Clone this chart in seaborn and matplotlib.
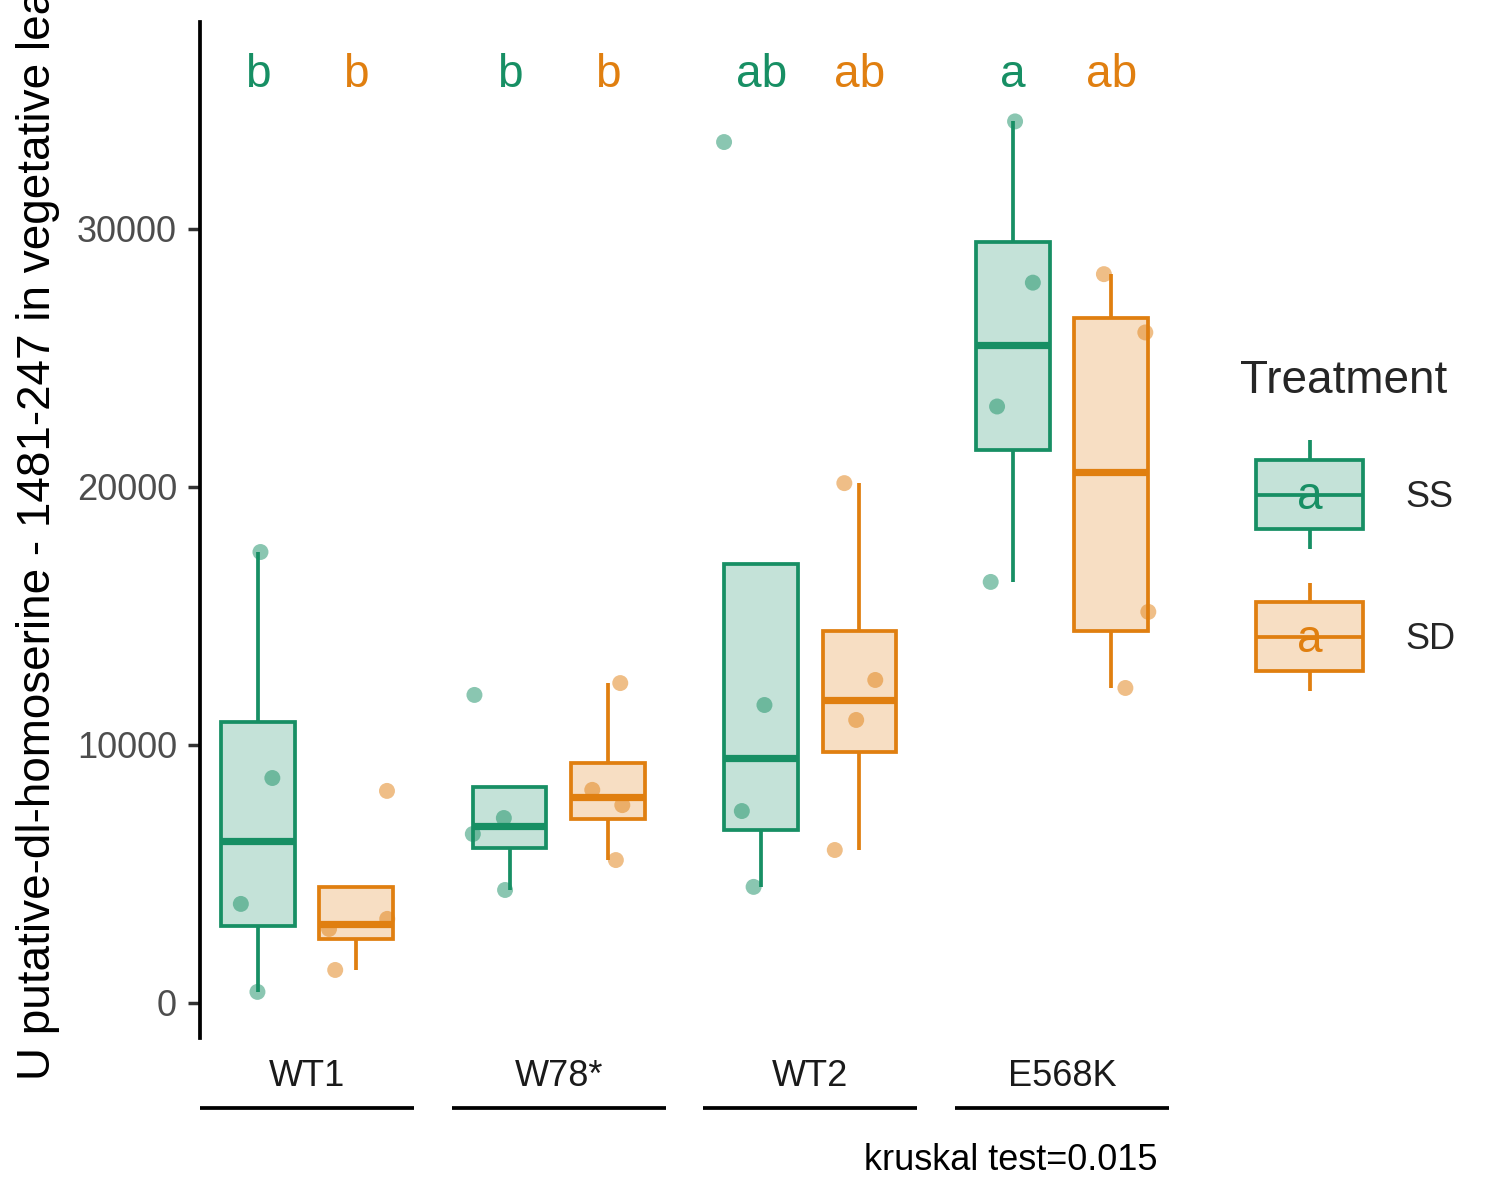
import numpy as np
import pandas as pd
import matplotlib
matplotlib.use("Agg")
import matplotlib.pyplot as plt
import seaborn as sns
from matplotlib.patches import Rectangle, Patch
from matplotlib.lines import Line2D
from matplotlib.text import Text
from matplotlib.legend_handler import HandlerBase
from matplotlib.colors import to_rgba

# ---------------- data ----------------
genotypes = ["WT1", "W78*", "WT2", "E568K"]
treatments = ["SS", "SD"]

wt1_ss = [17480, 8720, 3840, 430]
wt1_sd = [8220, 3260, 2870, 1280]
w78_ss = [11940, 7170, 6550, 4380]
w78_sd = [12400, 8260, 7670, 5540]
wt2_ss = [33370, 11550, 7440, 4500]
wt2_sd = [20150, 12520, 10970, 5930]
e568k_ss = [34170, 27920, 23120, 16320]
e568k_sd = [28250, 25990, 15160, 12210]

letters_ss = ["b", "b", "ab", "a"]
letters_sd = ["b", "b", "ab", "ab"]

y_ticks = [0, 10000, 20000, 30000]
y_label = "U putative-dl-homoserine - 1481-247 in vegetative leaves"
caption = "kruskal test=0.015"

groups = {
    ("WT1", "SS"): wt1_ss, ("WT1", "SD"): wt1_sd,
    ("W78*", "SS"): w78_ss, ("W78*", "SD"): w78_sd,
    ("WT2", "SS"): wt2_ss, ("WT2", "SD"): wt2_sd,
    ("E568K", "SS"): e568k_ss, ("E568K", "SD"): e568k_sd,
}
rows = []
for (g, t), vals in groups.items():
    for v in vals:
        rows.append({"Genotype": g, "Treatment": t, "Value": v})
df = pd.DataFrame(rows)

# ---------------- style ----------------
green = "#178F64"
orange = "#E07F10"
palette = {"SS": green, "SD": orange}

sns.set_theme(style="white")
plt.rcParams["font.family"] = ["Liberation Sans", "DejaVu Sans"]

W, H = 1500, 1200
fig = plt.figure(figsize=(15, 12), dpi=100)
ax = fig.add_axes([200 / W, 162 / H, 969 / W, 1016 / H])

# boxes: one call per treatment so each gets its own line colour
for t in treatments:
    sns.boxplot(
        data=df[df["Treatment"] == t], x="Genotype", y="Value", hue="Treatment",
        order=genotypes, hue_order=treatments, palette=palette, saturation=1,
        fill=True, dodge=True, width=0.78, gap=0.25, whis=1.5,
        linecolor=palette[t], linewidth=2.7, showfliers=False, showcaps=False,
        medianprops={"linewidth": 5.2}, legend=False, ax=ax,
    )
for p in ax.patches:
    fc = p.get_facecolor()
    p.set_facecolor((fc[0], fc[1], fc[2], 0.25))

np.random.seed(3)
sns.stripplot(
    data=df, x="Genotype", y="Value", hue="Treatment", order=genotypes,
    hue_order=treatments, palette=palette, dodge=True, jitter=0.3, size=11.5,
    alpha=0.5, linewidth=0, legend=False, zorder=3, ax=ax,
)

# significance letters
dodge_off = 0.195
label_y = 35500
for i, g in enumerate(genotypes):
    ax.text(i - dodge_off, label_y, letters_ss[i], color=green, ha="center",
            va="baseline", fontsize=33)
    ax.text(i + dodge_off, label_y, letters_sd[i], color=orange, ha="center",
            va="baseline", fontsize=33)

ax.set_xlim(-0.425, 3.425)
ax.set_ylim(-1357, 38023)
ax.set_yticks(y_ticks)
ax.set_yticklabels([str(v) for v in y_ticks])
ax.set_xlabel("")
ax.set_ylabel("")

for s in ["top", "right", "bottom"]:
    ax.spines[s].set_visible(False)
ax.spines["left"].set_linewidth(2.7)
ax.spines["left"].set_color("black")

ax.tick_params(axis="y", length=8.6, width=2.5, color="#333333", pad=8,
               labelsize=26, labelcolor="#4D4D4D", left=True)
ax.tick_params(axis="x", length=0, pad=15, labelsize=26, labelcolor="#1A1A1A")

# category underlines
xt = ax.get_xaxis_transform()
for i, g in enumerate(genotypes):
    ax.plot([i - 0.425, i + 0.425], [-0.0689, -0.0689], transform=xt,
            color="black", linewidth=2.7, clip_on=False, solid_capstyle="butt")

# axis title and caption
fig.text(38 / W, 1 - 1080 / H, y_label, rotation=90, ha="center", va="bottom",
         fontsize=33, color="black")
fig.text(1158 / W, 1 - 1170 / H, caption, ha="right", va="baseline",
         fontsize=26, color="black")


# ---------------- legend ----------------
class BoxKeyHandler(HandlerBase):
    def create_artists(self, legend, orig_handle, xdescent, ydescent, width,
                       height, fontsize, trans):
        col = orig_handle.get_edgecolor()
        x0 = -xdescent
        inset = 0.115 * width
        bx0, bx1 = x0 + inset, x0 + width - inset
        cy = 0.345 * fontsize
        box_h = 1.90 * fontsize
        wh = 3.0 * fontsize
        xc = (bx0 + bx1) / 2
        rect = Rectangle((bx0, cy - box_h / 2), bx1 - bx0, box_h,
                         facecolor=to_rgba(col, 0.25), edgecolor=col,
                         linewidth=2.7, transform=trans)
        w1 = Line2D([xc, xc], [cy + box_h / 2, cy + wh / 2], color=col,
                    linewidth=2.7, solid_capstyle="butt", transform=trans)
        w2 = Line2D([xc, xc], [cy - box_h / 2, cy - wh / 2], color=col,
                    linewidth=2.7, solid_capstyle="butt", transform=trans)
        med = Line2D([bx0, bx1], [cy, cy], color=col, linewidth=2.7,
                     solid_capstyle="butt", transform=trans)
        txt = Text(xc, cy - 0.08 * fontsize, "a", color=col, fontsize=33,
                   ha="center", va="center", transform=trans)
        return [rect, w1, w2, med, txt]


handles = [Patch(edgecolor=palette[t], facecolor="none", label=t) for t in treatments]
leg = fig.legend(
    handles=handles, labels=treatments, handler_map={Patch: BoxKeyHandler()},
    loc="upper left", bbox_to_anchor=(1240 / W, 1 - 359 / H), frameon=False,
    fontsize=26, title="Treatment", title_fontsize=33, alignment="left",
    handlelength=3.85, handleheight=0.7, handletextpad=0.72, labelspacing=2.97,
    borderpad=0, borderaxespad=0,
)
leg._legend_box.sep = 77 * 0.72

fig.savefig("out.png", dpi=100)
